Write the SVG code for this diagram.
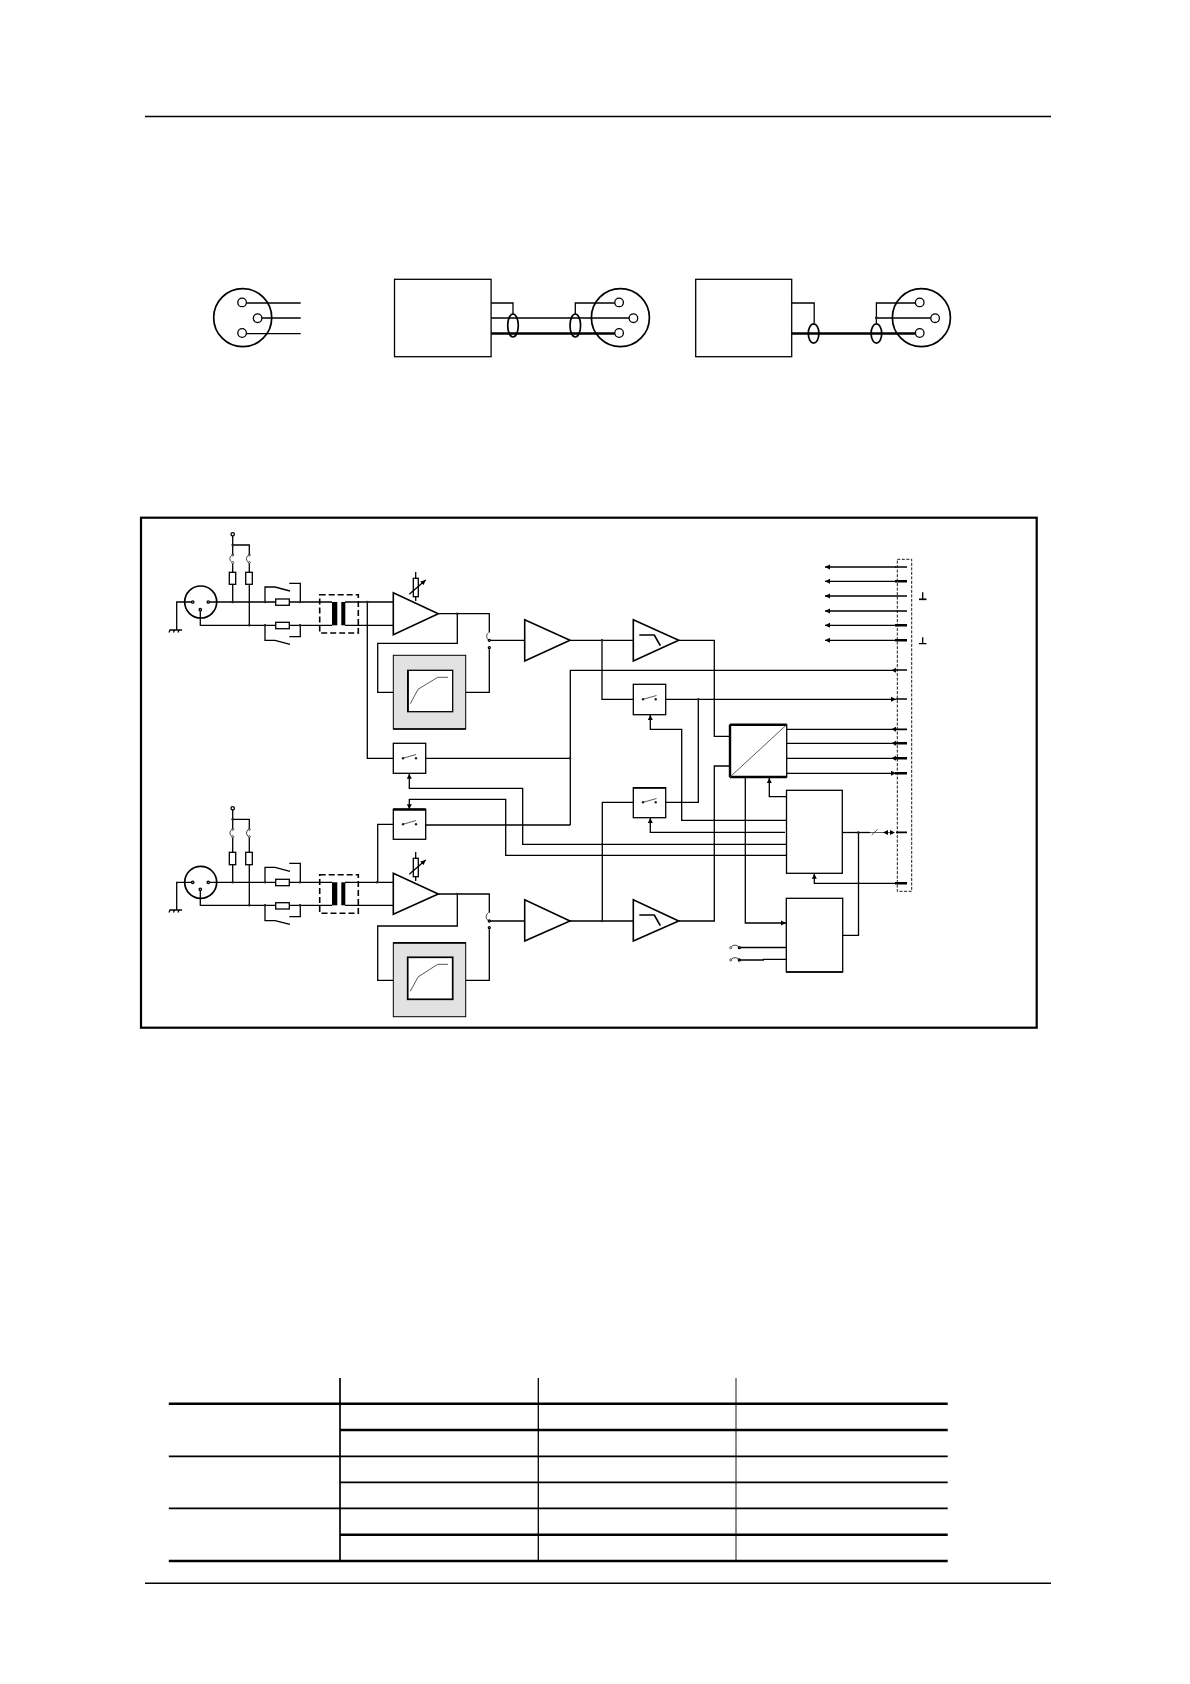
<svg xmlns="http://www.w3.org/2000/svg" width="1190" height="1684" viewBox="0 0 1190 1684">
<style>
.l{fill:none;stroke:#000;stroke-width:1.3}
.m{fill:none;stroke:#000;stroke-width:1.7}
.h{fill:none;stroke:#000;stroke-width:2.4}
.b{fill:#fff;stroke:#000;stroke-width:1.3}
.t{fill:#fff;stroke:#000;stroke-width:1.6;stroke-linejoin:miter}
.r{fill:#fff;stroke:#000;stroke-width:1.3}
.g{fill:#e2e2e2;stroke:#000;stroke-width:1}
.p{fill:#fff;stroke:#000;stroke-width:1.3}
.d{fill:#222;stroke:none}
.s{fill:none;stroke:#444;stroke-width:.9}
.j{fill:none;stroke:#444;stroke-width:1}
.f{fill:#000;stroke:none}
</style>
<defs>
<marker id="a" markerUnits="userSpaceOnUse" markerWidth="6" markerHeight="6" refX="5" refY="3" orient="auto"><path d="M0 0.5L5 3L0 5.5Z" fill="#000"/></marker>
</defs>
<g id="page-rules">
<path fill="none" stroke="#000" stroke-width="1.4" d="M145 116.5H1051M145 1583.3H1051"/>
</g>
<g id="wiring-a" transform="translate(.7 0)">
<circle class="m" cx="242" cy="317.7" r="29"/>
<circle class="p" cx="241.4" cy="302.4" r="4.3"/><circle class="p" cx="256.9" cy="318.2" r="4.3"/><circle class="p" cx="241.4" cy="333" r="4.3"/>
<path class="l" d="M245.7 303H300M261.2 318H300M245.7 333.7H300"/>
</g>
<g id="wiring-b" transform="translate(.7 0)">
<rect class="b" x="393.8" y="279.3" width="96.6" height="77.4"/>
<path class="l" d="M490.4 303H512.3V314M490.4 318H628.4M574.6 314V303H614.1"/>
<path class="h" d="M490.4 333.5H614"/>
<ellipse class="m" cx="512.3" cy="325.5" rx="5.3" ry="11.5"/>
<ellipse class="m" cx="574.6" cy="325.5" rx="5.3" ry="11.5"/>
<circle class="m" cx="619.7" cy="317.7" r="29"/>
<circle class="p" cx="618.4" cy="302.4" r="4.3"/><circle class="p" cx="632.7" cy="318.2" r="4.3"/><circle class="p" cx="618.4" cy="333" r="4.3"/>
</g>
<g id="wiring-c" transform="translate(.7 0)">
<rect class="b" x="695" y="279.3" width="96" height="77.4"/>
<path class="l" d="M791 303H813.5V323.3M875.7 323.3V303H914.7M875.7 318H930"/>
<path class="h" d="M791 333.5H915"/>
<ellipse class="m" cx="812.9" cy="333.5" rx="5.3" ry="9.7"/>
<ellipse class="m" cx="875.7" cy="333.5" rx="5.3" ry="9.7"/>
<circle class="d" cx="875.7" cy="318" r="1.4"/>
<circle class="m" cx="920.7" cy="317.7" r="29"/>
<circle class="p" cx="919" cy="302.4" r="4.3"/><circle class="p" cx="934.4" cy="318.2" r="4.3"/><circle class="p" cx="919" cy="333" r="4.3"/>
</g>
<rect id="frame" x="141" y="517.7" width="895.7" height="510" fill="none" stroke="#000" stroke-width="2.2"/>
<g id="connectors">
<!-- channel 1 input -->
<path class="l" d="M194 602H176.7V630M208.3 602H332M200.3 611V625.3H332M345 602H393.3M345 625.3H393.3"/>
<path class="l" d="M232.7 536V555M232.7 563.5V572.3M232.7 584.3V602M232.7 545H249.3V555M249.3 584.3V625.3"/>
<path class="l" d="M265 602V587H275M289.3 583.3H300.3V602M265 625.3V640.3H275M289.3 636.7H300.3V625.3"/>
<path class="l" d="M367.3 602V758.3H403"/>
<path class="l" d="M415.7 572V578.3M415.7 596.7V601"/>
<path class="l" d="M438.3 613.7H489.3V632.5M457.3 613.7V643.3H377.7V692.3H393.3M465.7 692.3H489.3V649.2"/>
<path class="l" d="M489.3 640.3H524.7M570 640.3H633.3M602 640.3V699.3H643M678.7 640.3H714.3V736.3H730"/>
<!-- switch outputs -->
<path class="l" d="M416 758.3H570.3M570.3 825H416M403 824.3H377.7V882.3"/>
<path class="l" d="M570.3 825V670.3H896"/>
<path class="f" d="M891.5 670.3L896 667.8V672.8Z"/>
<path class="l" d="M655.7 699.3H896" marker-end="url(#a)"/>
<path class="l" d="M698.3 699.3V802.3H655.7M643 802.3H602.3V921"/>
<!-- controls -->
<path class="l" d="M786.3 820.3H681.7V729.3H650.3V715" marker-end="url(#a)"/>
<path class="l" d="M785 832.3H650.3V818" marker-end="url(#a)"/>
<path class="l" d="M786.3 844.3H522.7V788.3H409.3V773.8" marker-end="url(#a)"/>
<path class="l" d="M786.3 855.3H505.7V799.3H409.3V809.3" marker-end="url(#a)"/>
<!-- channel 2 input -->
<path class="l" d="M194 882.3H176.7V910M208.3 882.3H332M200.3 891V905.3H332M345 882.3H393.3M345 905.3H393.3"/>
<path class="l" d="M232.7 810V829.3M232.7 837.7V852.3M232.7 864.7V882.3M232.7 819.3H249.3V829.3M249.3 864.7V905.3"/>
<path class="l" d="M265 882.3V867.3H275M289.3 863.3H300.3V882.3M265 905.3V920.7H275M289.3 916.7H300.3V905.3"/>
<path class="l" d="M415.7 852V858.3M415.7 876.7V881"/>
<path class="l" d="M438.3 894H489.3V912.7M457.3 894V926H377.7V980.3H393.3M465.7 980.3H489.3V929.2"/>
<path class="l" d="M489.3 921H524.7M570 921H633.3M678.7 921H714.3V766H730"/>
<!-- converter outputs -->
<path class="l" d="M786.7 729.3H896M786.7 743.3H896M786.7 758.3H896"/>
<path class="f" d="M891.5 729.3L896 726.8V731.8ZM891.5 743.3L896 740.8V745.8ZM891.5 758.3L896 755.8V760.8Z"/>
<path class="l" d="M786.7 773.3H896" marker-end="url(#a)"/>
<!-- top bus -->
<path class="l" d="M896 567H825" marker-end="url(#a)"/>
<path class="l" d="M896 581.3H825" marker-end="url(#a)"/>
<path class="l" d="M896 596H825" marker-end="url(#a)"/>
<path class="l" d="M896 611H825" marker-end="url(#a)"/>
<path class="l" d="M896 625.3H825" marker-end="url(#a)"/>
<path class="l" d="M896 640.3H825" marker-end="url(#a)"/>
<!-- logic -->
<path class="l" d="M786.7 796.7H769.3V778" marker-end="url(#a)"/>
<path class="l" d="M745.3 777V923H786" marker-end="url(#a)"/>
<path class="l" d="M896 883.3H814.3V873.8" marker-end="url(#a)"/>
<path class="l" d="M842.3 832.5H870"/>
<path class="s" d="M870 832.5H892M871.7 835L877.7 829.3"/>
<path class="f" d="M883 832.5L888 830V835ZM895 832.5L890 830V835Z"/>
<path class="l" d="M858.5 832.5V935.3H842.7"/>
<path class="l" d="M739.3 947.5H786.3M739.3 960H763.3V959.3H786.3"/>
</g>
<g id="terminals">
<rect x="897.3" y="559.3" width="14.4" height="332" fill="none" stroke="#000" stroke-width=".9" stroke-dasharray="3 1.5"/>
<path class="m" d="M895 567H907M896 596H907M896 611H907M896 670H907M896 699H907M896 729.3H907M896 832.3H907"/>
<path class="f" d="M895 580H907V582.6H895ZM895 624H907V626.6H895ZM895 639H907V641.6H895ZM895 742H907V744.6H895ZM895 757H907V759.6H895ZM895 772H907V774.6H895ZM895 882H907V884.6H895Z"/>
</g>
<g id="ground-symbols">
<path class="l" d="M922.7 592.3V599.3"/><path class="m" d="M919 599.3H926.5"/>
<path class="l" d="M922.7 637.3V643.7M919 643.7H926.5"/>
</g>
<g id="xlr-in-1">
<circle class="m" cx="200.7" cy="602" r="16"/>
<circle class="p" cx="192.7" cy="602" r="1.2"/><circle class="p" cx="208.3" cy="602" r="1.2"/><circle class="p" cx="200.3" cy="609.7" r="1.2"/>
<path class="l" d="M169.3 630H182M170 630L169 632.5M174.5 630L173.5 632.5M179 630L178 632.5"/>
<circle class="p" cx="232.7" cy="534.3" r="1.7"/>
<circle class="d" cx="232.7" cy="545" r="1.3"/><circle class="d" cx="232.7" cy="602" r="1.3"/><circle class="d" cx="249.3" cy="625.3" r="1.3"/>
<path class="j" d="M231.8 555.3A4 4 0 0 0 231.8 562.2M248.4 555.3A4 4 0 0 0 248.4 562.2"/>
<circle class="j" cx="232.7" cy="562.5" r="1"/><circle class="j" cx="232.7" cy="555" r="1"/><circle class="j" cx="249.3" cy="562.5" r="1"/><circle class="j" cx="249.3" cy="555" r="1"/>
<path class="l" d="M249.3 563.5V572.3"/>
<rect class="r" x="229.3" y="572.3" width="6.4" height="12"/><rect class="r" x="245.7" y="572.3" width="6.6" height="12"/>
<rect class="r" x="275.7" y="599" width="13.6" height="6.3"/><rect class="r" x="275.7" y="622.3" width="13.6" height="6.4"/>
<path class="l" d="M275 587L290 591M275 640.3L290 644.3"/>
<circle class="d" cx="265" cy="602" r="1.2"/><circle class="d" cx="300" cy="602" r="1.2"/><circle class="d" cx="265" cy="625.3" r="1.2"/><circle class="d" cx="300" cy="625.3" r="1.2"/>
</g>
<g id="transformer-1">
<rect x="319.7" y="594.7" width="38.6" height="38.3" fill="none" stroke="#000" stroke-width="1.6" stroke-dasharray="6 3"/>
<rect class="f" x="332" y="602" width="5.3" height="23.3"/><rect class="f" x="341.3" y="602" width="4" height="23.3"/>
<circle class="d" cx="367.3" cy="602" r="1.3"/>
</g>
<g id="amp-1">
<path class="t" d="M393.3 592.7V634.7L438.3 613.7Z"/>
<rect class="r" x="413.3" y="578.3" width="5" height="18.4"/>
<path class="l" d="M409.3 594.3L425.7 580" marker-end="url(#a)"/>
<circle class="d" cx="457.3" cy="613.7" r="1.2"/>
</g>
<g id="limiter-1">
<rect class="g" x="393.3" y="655.3" width="72.4" height="73.7"/><path class="m" d="M393.3 729H465.7"/>
<rect class="b" x="407.7" y="670.3" width="45" height="41.4"/><path class="m" d="M408 670.3V711.7"/>
<path class="s" d="M410.3 703.7L418 689.3L437.7 677.3H448"/>
</g>
<g id="jumper-1">
<path class="j" d="M488.5 632.7A4.5 4.5 0 0 0 488.5 640"/>
<circle class="p" cx="489.3" cy="640.3" r="1"/><circle class="p" cx="489.3" cy="647.7" r="1"/>
</g>
<g id="amp-2"><path class="t" d="M524.7 619.7V661L570 640.3Z"/><circle class="d" cx="602" cy="640.3" r="1.2"/></g>
<g id="filter-1"><path class="t" d="M633.3 619.7V661L678.7 640.3Z"/><path class="m" d="M639.3 635H654.3L660.3 645.7"/></g>
<g id="switch-1">
<rect class="b" x="393.3" y="743.3" width="32.4" height="30"/>
<path class="s" d="M403 758.3L416 754.5"/><circle class="d" cx="403" cy="758.3" r="1.2"/><circle class="d" cx="416" cy="758.3" r="1.2"/>
</g>
<g id="switch-2">
<rect class="b" x="393.3" y="809.3" width="32.4" height="30"/><path class="h" d="M393.3 809.5H425.7"/>
<path class="s" d="M403 824.3L416 820.5"/><circle class="d" cx="403" cy="824.3" r="1.2"/><circle class="d" cx="416" cy="824.3" r="1.2"/>
</g>
<g id="switch-3">
<rect class="b" x="633.3" y="684.3" width="32.4" height="30.4"/>
<path class="s" d="M643 699.3L656.5 695.5"/><circle class="d" cx="643" cy="699.3" r="1.2"/><circle class="d" cx="655.7" cy="699.3" r="1.2"/>
<circle class="d" cx="698.3" cy="699.3" r="1.2"/>
</g>
<g id="switch-4">
<rect class="b" x="633.3" y="787.7" width="32.4" height="30"/><path class="m" d="M633.3 788H665.7"/>
<path class="s" d="M643 802.3L656.5 798.5"/><circle class="d" cx="643" cy="802.3" r="1.2"/><circle class="d" cx="655.7" cy="802.3" r="1.2"/>
<circle class="d" cx="570" cy="758.3" r="1.2"/>
</g>
<g id="xlr-in-2">
<circle class="m" cx="200.7" cy="882.3" r="16"/>
<circle class="p" cx="192.7" cy="882.3" r="1.2"/><circle class="p" cx="208.3" cy="882.3" r="1.2"/><circle class="p" cx="200.3" cy="889.3" r="1.2"/>
<path class="l" d="M169.3 910H182M170 910L169 912.5M174.5 910L173.5 912.5M179 910L178 912.5"/>
<circle class="p" cx="232.7" cy="808.3" r="1.7"/>
<circle class="d" cx="232.7" cy="819.3" r="1.3"/><circle class="d" cx="232.7" cy="882.3" r="1.3"/><circle class="d" cx="249.3" cy="905.3" r="1.3"/>
<path class="j" d="M231.8 829.6A4 4 0 0 0 231.8 836.4M248.4 829.6A4 4 0 0 0 248.4 836.4"/>
<circle class="j" cx="232.7" cy="829.3" r="1"/><circle class="j" cx="232.7" cy="836.7" r="1"/><circle class="j" cx="249.3" cy="829.3" r="1"/><circle class="j" cx="249.3" cy="836.7" r="1"/>
<path class="l" d="M249.3 837.7V852.3"/>
<rect class="r" x="229.3" y="852.3" width="6.4" height="12.4"/><rect class="r" x="245.7" y="852.3" width="6.6" height="12.4"/>
<rect class="r" x="275.7" y="879.3" width="13.6" height="6.4"/><rect class="r" x="275.7" y="902.7" width="13.6" height="6.3"/>
<path class="l" d="M275 867.3L290 871.3M275 920.7L290 924.3"/>
<circle class="d" cx="265" cy="882.3" r="1.2"/><circle class="d" cx="300" cy="882.3" r="1.2"/><circle class="d" cx="265" cy="905.3" r="1.2"/><circle class="d" cx="300" cy="905.3" r="1.2"/>
</g>
<g id="transformer-2">
<rect x="319.7" y="874.7" width="38.6" height="38.6" fill="none" stroke="#000" stroke-width="1.6" stroke-dasharray="6 3"/>
<rect class="f" x="332" y="882.3" width="5.3" height="23"/><rect class="f" x="341.3" y="882.3" width="4" height="23"/>
<circle class="d" cx="377" cy="882.3" r="1.3"/>
</g>
<g id="amp-3">
<path class="t" d="M393.3 873.3V914.3L438.3 894Z"/>
<rect class="r" x="413.3" y="858.3" width="5" height="18.4"/>
<path class="l" d="M409.3 874.3L425.7 860" marker-end="url(#a)"/>
<circle class="d" cx="457.3" cy="894" r="1.2"/>
</g>
<g id="limiter-2">
<rect class="g" x="393.3" y="942.7" width="72.4" height="74"/><path class="m" d="M393.3 942.9H465.7"/>
<rect class="m" x="407.7" y="957.3" width="45" height="42" style="fill:#fff"/>
<path class="s" d="M410.3 991.3L418 977L437.7 964.3H448"/>
</g>
<g id="jumper-2">
<path class="j" d="M488.5 912.7A4.5 4.5 0 0 0 488.5 920.7"/>
<circle class="p" cx="489.3" cy="921" r="1"/><circle class="p" cx="489.3" cy="927.7" r="1"/>
</g>
<g id="amp-4"><path class="t" d="M524.7 899.7V941L570 921Z"/><circle class="d" cx="602" cy="921" r="1.2"/></g>
<g id="filter-2"><path class="t" d="M633.3 899.7V941L678.7 921Z"/><path class="m" d="M639.3 915H654.3L660.3 925.7"/></g>
<g id="converter">
<rect class="b" x="730" y="724.7" width="56.7" height="52.3"/>
<path class="h" d="M730 724.7H786.7M730 724.7V777M730 777H786.7"/>
<path class="s" d="M730 777L786.7 724.7"/>
</g>
<g id="control-box">
<rect class="b" x="786.5" y="790.3" width="55.8" height="83"/>
<circle class="d" cx="858.3" cy="832.5" r="1.3"/>
</g>
<g id="interface-box">
<rect class="b" x="786.3" y="898.3" width="56.4" height="73.7"/><path class="m" d="M786.3 972H842.7"/>
</g>
<g id="jumper-3">
<path class="j" d="M731.5 946.5A4.5 3.5 0 0 1 738.5 946.5M731.5 959A4.5 3.5 0 0 1 738.5 959"/>
<circle class="j" cx="730.7" cy="947.7" r="1"/><circle class="p" cx="739.3" cy="947.7" r="1"/>
<circle class="j" cx="730.7" cy="960" r="1"/><circle class="p" cx="739.3" cy="960" r="1"/>
</g>
<g id="table">
<path class="m" d="M340 1378V1561"/>
<path class="l" d="M538.3 1378V1561"/>
<path fill="none" stroke="#000" stroke-width=".9" d="M736 1378V1561"/>
<path fill="none" stroke="#000" stroke-width="2.4" d="M168.8 1403.7H947.7M340 1430H947.7M340 1534.7H947.7M168.8 1561H947.7"/>
<path class="m" d="M168.8 1456.3H947.7M340 1482.3H947.7M168.8 1508.3H947.7"/>
</g>
</svg>
